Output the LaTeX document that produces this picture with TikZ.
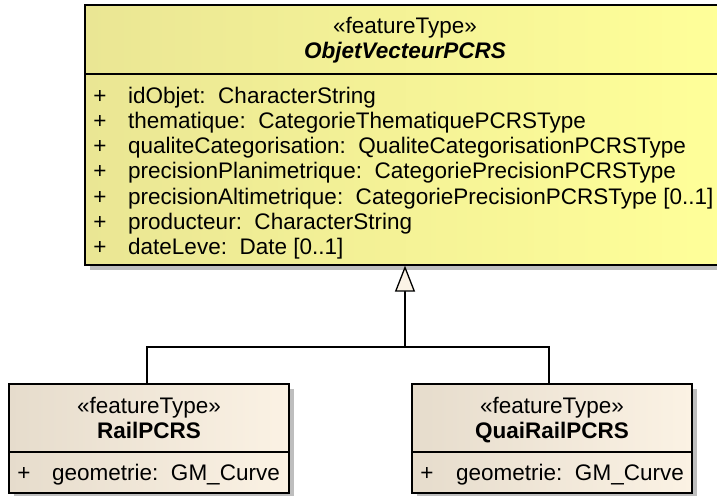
\documentclass[tikz,border=0pt]{standalone}
\usepackage{fontspec}
\setmainfont{Liberation Sans}
\usetikzlibrary{arrows.meta,shadows}
\definecolor{ylwL}{RGB}{234,230,148}
\definecolor{ylwR}{RGB}{255,255,153}
\definecolor{crmL}{RGB}{230,220,204}
\definecolor{crmR}{RGB}{251,242,228}
\definecolor{shd}{RGB}{190,190,190}
\definecolor{tri}{RGB}{251,243,230}
\newcommand{\attsep}{\hspace{0.556em}}
\begin{document}
\begin{tikzpicture}[x=1pt,y=-1pt,
  box/.style={draw=black, line width=1.3pt, inner sep=0pt, rectangle,
    drop shadow={shadow xshift=5pt, shadow yshift=-5pt, fill=shd, opacity=1}},
  ybox/.style={box, left color=ylwL, right color=ylwR},
  cbox/.style={box, left color=crmL, right color=crmR},
  txt/.style={inner sep=0pt, font=\fontsize{22.5}{25.3}\selectfont, anchor=base},
  bname/.style={txt, font=\fontsize{22.5}{25.3}\selectfont\bfseries},
  attr/.style={txt, anchor=base west},
  conn/.style={line width=1.3pt, draw=black},
  sepline/.style={line width=1.3pt, draw=black}
]
\useasboundingbox (0,0) rectangle (717,495);

% top class
\node[ybox, minimum width=640pt, minimum height=260pt] (obj) at (405,135) {};
\draw[sepline] (85,74) -- (725,74);
\node[txt] (objst) at (405,34) {«featureType»};
\node[bname, font=\fontsize{22.5}{25.3}\selectfont\bfseries\itshape] (objnm) at (405,59) {ObjetVecteurPCRS};

\node[txt] (p1) at (100,103) {+};
\node[attr] (a1) at (128,103) {idObjet:\attsep CharacterString};
\node[txt] (p2) at (100,128.3) {+};
\node[attr] (a2) at (128,128.3) {thematique:\attsep CategorieThematiquePCRSType};
\node[txt] (p3) at (100,153.6) {+};
\node[attr] (a3) at (128,153.6) {qualiteCategorisation:\attsep QualiteCategorisationPCRSType};
\node[txt] (p4) at (100,178.9) {+};
\node[attr] (a4) at (128,178.9) {precisionPlanimetrique:\attsep CategoriePrecisionPCRSType};
\node[txt] (p5) at (100,204.2) {+};
\node[attr] (a5) at (128,204.2) {precisionAltimetrique:\attsep CategoriePrecisionPCRSType [0..1]};
\node[txt] (p6) at (100,229.5) {+};
\node[attr] (a6) at (128,229.5) {producteur:\attsep CharacterString};
\node[txt] (p7) at (100,254.8) {+};
\node[attr] (a7) at (128,254.8) {dateLeve:\attsep Date [0..1]};

% RailPCRS
\node[cbox, minimum width=280pt, minimum height=109pt] (rail) at (149,438.5) {};
\draw[sepline] (9,452) -- (289,452);
\node[txt] (railst) at (149,413) {«featureType»};
\node[bname] (railnm) at (149,438) {RailPCRS};
\node[txt] (railp) at (24,480) {+};
\node[attr] (raila) at (52,480) {geometrie:\attsep GM\_Curve};

% QuaiRailPCRS
\node[cbox, minimum width=280pt, minimum height=109pt] (quai) at (552,438.5) {};
\draw[sepline] (412,452) -- (692,452);
\node[txt] (quaist) at (552,413) {«featureType»};
\node[bname] (quainm) at (552,438) {QuaiRailPCRS};
\node[txt] (quaip) at (427,480) {+};
\node[attr] (quaia) at (456,480) {geometrie:\attsep GM\_Curve};

% generalization
\coordinate (j) at (405,347);
\draw[conn] ([xshift=-2pt]rail.north) |- (j) -| ([xshift=-3pt]quai.north);
\draw[conn, -{Triangle[width=20pt,length=26pt,fill=tri]}] (j) -- (obj.south);
\end{tikzpicture}
\end{document}
